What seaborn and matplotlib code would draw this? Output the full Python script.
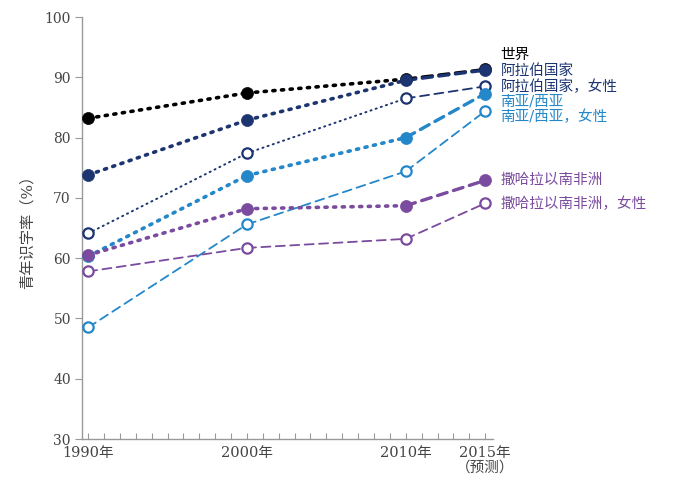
import numpy as np
import pandas as pd
import matplotlib
matplotlib.use("Agg")
import matplotlib.pyplot as plt
import seaborn as sns
from matplotlib.ticker import MultipleLocator

sns.set_theme(style="white")
plt.rcParams['font.family'] = ['DejaVu Serif', 'Noto Sans CJK SC']

years = [1990, 2000, 2010, 2015]
series_names = ["世界", "阿拉伯国家", "阿拉伯国家，女性", "南亚/西亚", "南亚/西亚，女性",
                "撒哈拉以南非洲", "撒哈拉以南非洲，女性"]
world = [83.2, 87.4, 89.7, 91.3]
arab = [73.8, 82.9, 89.5, 91.2]
arab_f = [64.1, 77.4, 86.5, 88.5]
sasia = [60.3, 73.7, 80.0, 87.3]
sasia_f = [48.5, 65.6, 74.4, 84.4]
ssa = [60.5, 68.2, 68.7, 72.9]
ssa_f = [57.8, 61.7, 63.2, 69.1]
values = [world, arab, arab_f, sasia, sasia_f, ssa, ssa_f]
label_y = [93.7, 91.1, 88.5, 86.0, 83.4, 73.0, 69.0]
x_ticklabels = ["1990年", "2000年", "2010年", "2015年\n（预测）"]

colors = ["#000000", "#1c3470", "#1c3470", "#2387c9", "#2387c9", "#7a4b9e", "#7a4b9e"]
filled = [True, True, False, True, False, True, False]
# segment styles: (linestyle, linewidth) for 1990-2000, 2000-2010, 2010-2015
DOT_T = ((0, (0.6, 1.8)), 2.6)
DOT_F = ((0, (0.6, 2.2)), 1.4)
DASH_T = ((0, (3.0, 2.0)), 2.4)
DASH_F = ((0, (5.0, 3.0)), 1.3)
seg_styles = [
    [DOT_T, DOT_T, DASH_T],
    [DOT_T, DOT_T, DASH_T],
    [DOT_F, DOT_F, DASH_F],
    [DOT_T, DOT_T, DASH_T],
    [DASH_F, DASH_F, DASH_F],
    [DOT_T, DOT_T, DASH_T],
    [DASH_F, DASH_F, DASH_F],
]

rows = []
for name, vals in zip(series_names, values):
    for y, v in zip(years, vals):
        rows.append({"series": name, "year": y, "value": v})
df = pd.DataFrame(rows)

fig = plt.figure(figsize=(6.84, 4.79), dpi=100)
ax = fig.add_axes([0.12, 0.0835, 0.601, 0.881])

for i, name in enumerate(series_names):
    sub = df[df.series == name].reset_index(drop=True)
    for s in range(3):
        seg = sub.iloc[s:s + 2]
        ls, lw = seg_styles[i][s]
        sns.lineplot(data=seg, x="year", y="value", ax=ax, color=colors[i],
                     linestyle=ls, linewidth=lw, zorder=2 + i * 0.1,
                     legend=False, errorbar=None, sort=False)
        ax.lines[-1].set_dash_capstyle('round')
    if filled[i]:
        sns.scatterplot(data=sub, x="year", y="value", ax=ax, color=colors[i],
                        s=75, edgecolor=colors[i], linewidth=0.5, zorder=5, legend=False)
    else:
        sns.scatterplot(data=sub, x="year", y="value", ax=ax, facecolor="white",
                        s=55, edgecolor=colors[i], linewidth=1.6, zorder=5, legend=False)
    ax.annotate(name, xy=(2015, label_y[i]), xytext=(11, 0), textcoords="offset points",
                va="center", ha="left", color=colors[i], fontsize=10.5, annotation_clip=False)

ax.set_xlim(1989.62, 2015.5)
ax.set_ylim(30, 100)
ax.set_xticks(years)
ax.set_xticklabels(x_ticklabels, color="#444444", fontsize=10.5, linespacing=1.05)
ax.xaxis.set_minor_locator(MultipleLocator(1))
ax.set_yticks(np.arange(30, 101, 10))
ax.tick_params(axis="y", direction="out", length=5, width=0.8, color="#999999",
               labelcolor="#444444", labelsize=10, left=True, pad=3)
ax.tick_params(axis="x", which="both", direction="in", length=4, width=0.8,
               color="#999999", bottom=True, pad=5)
ax.set_xlabel("")
ax.set_ylabel("青年识字率（%）", color="#444444", fontsize=11, labelpad=7)
for sp in ["top", "right"]:
    ax.spines[sp].set_visible(False)
for sp in ["left", "bottom"]:
    ax.spines[sp].set_color("#999999")
    ax.spines[sp].set_linewidth(1.0)

fig.savefig("out.png", dpi=100)
